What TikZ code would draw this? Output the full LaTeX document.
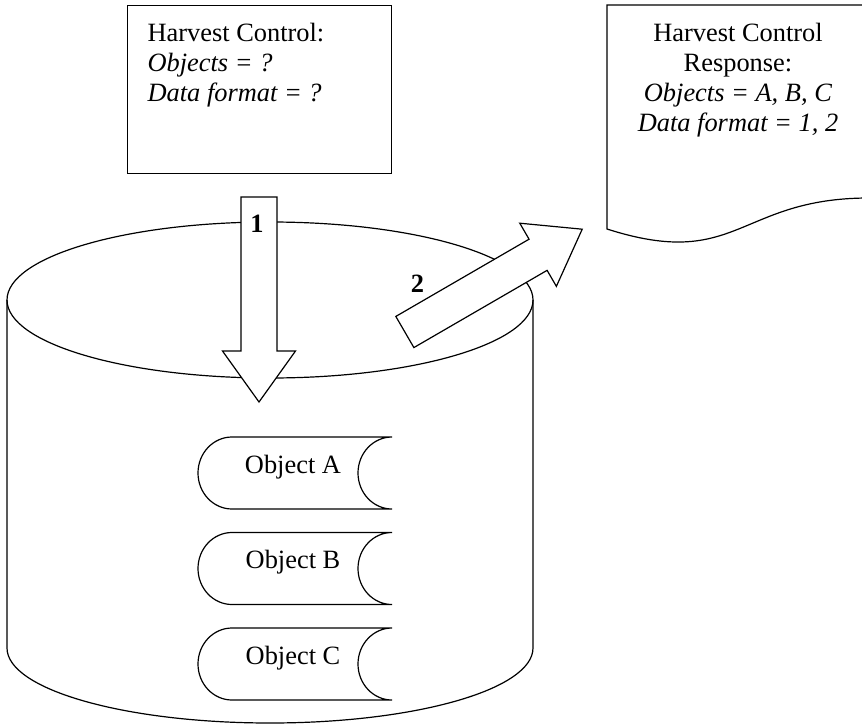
\documentclass[tikz,border=0pt]{standalone}
\usepackage{fontspec}
\setmainfont{Liberation Serif}
\usetikzlibrary{positioning}

\begin{document}
\begin{tikzpicture}[
  x=0.5pt, y=0.5pt,
  line width=0.6pt,
  every node/.style={font=\fontsize{13.2}{15}\selectfont},
  box/.style={draw, minimum width=132pt, minimum height=84pt, inner sep=0pt},
  txt/.style={inner sep=0pt},
  stored/.style={draw, fill=white},
  blockarr/.style={draw, fill=white},
  num/.style={inner sep=0pt, font=\fontsize{13.2}{15}\selectfont\bfseries},
  pics/fatarrow/.style={code={
    \draw[blockarr] (0,-18) -- (154,-18) -- (154,-36.5) -- (205,0)
      -- (154,36.5) -- (154,18) -- (0,18) -- cycle;
  }}
]
\useasboundingbox (0,0) rectangle (862,725);
\fill[white] (0,0) rectangle (862,725);
\clip (0,0) rectangle (862,725);

% repository can
\draw (270,425) ellipse [x radius=263, y radius=78];
\draw (7,425) -- (7,77) arc[start angle=180, end angle=360, x radius=263, y radius=75] -- (533,425);

% stored objects
\foreach \name/\ty in {A/288, B/192.5, C/97} {
  \draw[stored] (232,\ty) -- (392,\ty)
    arc[start angle=90, end angle=270, x radius=34, y radius=36]
    -- (232,\ty-72)
    arc[start angle=270, end angle=90, x radius=34, y radius=36] -- cycle;
  \node[txt, anchor=base] (obj\name) at (293,\ty-36) {Object \name};
}

% request and response arrows
\pic[rotate=-90] (req) at (259,528) {fatarrow};
\pic[rotate=30.1] (resp) at (404.85,393) {fatarrow};
\node[num] (n1) at (257,501) {1};
\node[num] (n2) at (417.5,441) {2};

% harvest control box
\node[box, anchor=north west] (ctrl) at (127,720) {};
\node[txt, anchor=north west, align=left] (ctrltxt) at (147,702.5)
  {Harvest Control:\\ \textit{Objects = ?}\\ \textit{Data format = ?}};

% response document
\draw (607,720) -- (869,720) -- (869,527)
  .. controls (738,527) and (738,454) .. (607,496) -- cycle;
\node[txt, anchor=north, align=center] (resptxt) at (738,702.5)
  {Harvest Control\\ Response:\\ \textit{Objects = A, B, C}\\ \textit{Data format = 1, 2}};
\end{tikzpicture}
\end{document}
